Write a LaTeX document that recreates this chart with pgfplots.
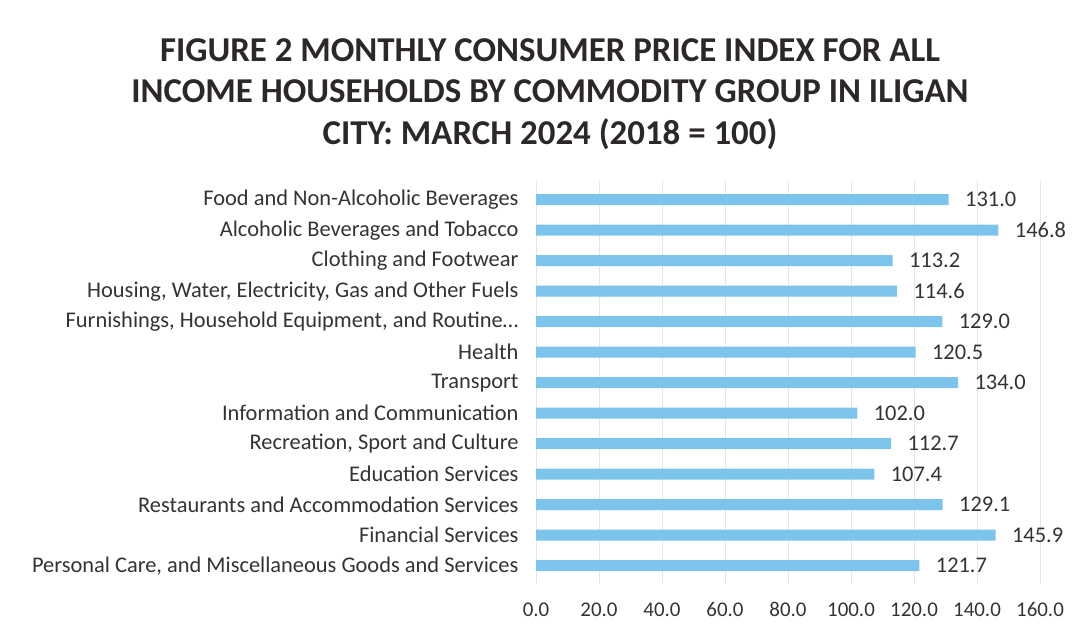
\documentclass[border=0pt]{standalone}
\usepackage{fontspec}
\setmainfont{Carlito}
\usepackage{pgfplots}
\pgfplotsset{compat=1.18}
\definecolor{barblue}{RGB}{125,196,236}
\definecolor{txt}{RGB}{55,50,50}
\definecolor{ttl}{RGB}{45,40,40}
\begin{document}
\begin{tikzpicture}[x=1bp,y=1bp]
\useasboundingbox (0,0) rectangle (1080,640);
\node[font=\fontsize{35}{41.5}\selectfont\bfseries, text=ttl, align=center, anchor=center] at (550,546)
  {FIGURE 2 MONTHLY CONSUMER PRICE INDEX FOR ALL\\INCOME HOUSEHOLDS BY COMMODITY GROUP IN ILIGAN\\CITY: MARCH 2024 (2018 = 100)};
\begin{axis}[
  at={(536bp,56bp)}, anchor=south west,
  scale only axis, width=504bp, height=402.6bp,
  xbar, bar width=11bp,
  xmin=0, xmax=160, ymin=-0.6, ymax=12.6,
  y dir=reverse,
  axis line style={draw=none},
  xtick={0,20,...,160},
  ytick={0,...,12},
  yticklabels={Food and Non-Alcoholic Beverages,Alcoholic Beverages and Tobacco,Clothing and Footwear,{Housing, Water, Electricity, Gas and Other Fuels},{Furnishings, Household Equipment, and Routine\dots},Health,Transport,Information and Communication,{Recreation, Sport and Culture},Education Services,Restaurants and Accommodation Services,Financial Services,{Personal Care, and Miscellaneous Goods and Services}},
  major tick length=0pt,
  xmajorgrids, grid style={draw=black!10, line width=0.6pt},
  ymajorgrids=false,
  yticklabel style={font=\fontsize{22.5}{24}\selectfont, text=txt, xshift=-14bp},
  xticklabel style={font=\fontsize{21}{23}\selectfont, text=txt, yshift=-15bp},
  /pgf/number format/assume math mode=true,
  xticklabel={\pgfmathprintnumber[fixed,fixed zerofill,precision=1]{\tick}},
  nodes near coords,
  nodes near coords style={font=\fontsize{22.5}{24}\selectfont, text=txt, anchor=west, xshift=13bp,
    /pgf/number format/.cd, fixed, fixed zerofill, precision=1, assume math mode=true},
]
\addplot[fill=barblue, draw=none] coordinates {
(131.0,0) (146.8,1) (113.2,2) (114.6,3) (129.0,4) (120.5,5) (134.0,6) (102.0,7) (112.7,8) (107.4,9) (129.1,10) (145.9,11) (121.7,12)
};
\end{axis}
\end{tikzpicture}
\end{document}
